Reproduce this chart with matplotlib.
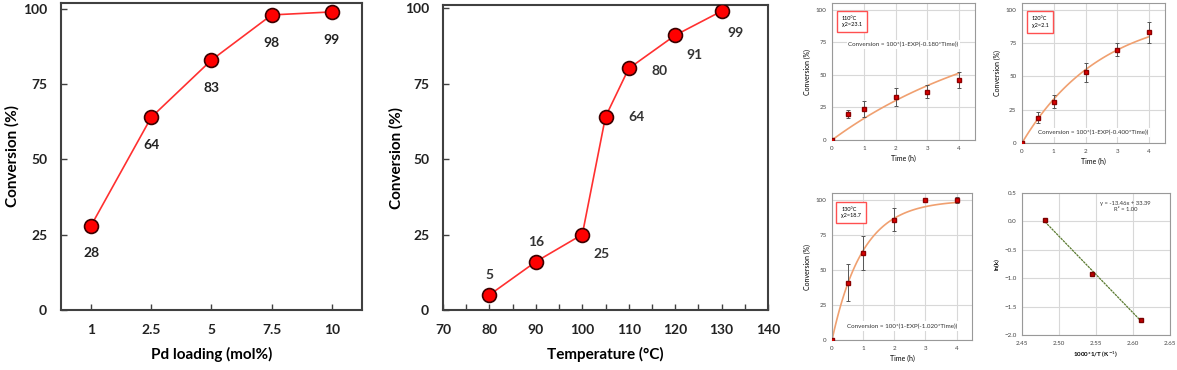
import numpy as np
import matplotlib
matplotlib.use('Agg')
import matplotlib.pyplot as plt

plt.rcParams['font.family'] = ['Lato', 'DejaVu Sans']

# panel a: Pd loading
pd_loading = ['1', '2.5', '5', '7.5', '10']
conv_pd = [28, 64, 83, 98, 99]

# panel b: temperature
temps = [80, 90, 100, 105, 110, 120, 130]
conv_temp = [5, 16, 25, 64, 80, 91, 99]
temp_label_off = [(0, 14), (0, 14), (14, -14), (22, 0), (22, -2), (14, -14), (10, -16)]

# kinetics panels
time_h = [0, 0.5, 1, 2, 3, 4]
conv_110 = [0, 20, 24, 33, 37, 46]
err_110 = [0, 3, 6, 7, 5, 6]
conv_120 = [0, 19, 31, 53, 70, 83]
err_120 = [0, 4, 5, 7, 5, 8]
conv_130 = [0, 41, 62, 86, 100, 100]
err_130 = [0, 13, 12, 8, 0, 2]
k_fit = {'110': 0.180, '120': 0.400, '130': 1.020}
chi2 = {'110': 23.1, '120': 2.1, '130': 18.7}

# Arrhenius
inv_T = [2.481, 2.545, 2.611]
ln_k = [0.02, -0.92, -1.73]

fig = plt.figure(figsize=(11.77, 3.70), dpi=100)
dark = '#404040'

# ---- panel 1
ax1 = fig.add_axes([0.0518, 0.1622, 0.2557, 0.830])
x1 = np.arange(len(pd_loading))
ax1.plot(x1, conv_pd, '-', color='#ff3030', lw=1.2, zorder=2)
ax1.plot(x1, conv_pd, 'o', ms=10, mfc='#ff0000', mec='#3a0000', mew=1.2, zorder=3)
for xi, v in zip(x1, conv_pd):
    ax1.annotate(str(v), (xi, v), xytext=(0, -20), textcoords='offset points',
                 ha='center', va='center', fontsize=10, fontweight='bold', color='#222222')
ax1.set_xticks(x1)
ax1.set_xticklabels(pd_loading)
ax1.set_xlim(-0.5, 4.5)
ax1.set_ylim(0, 102)
ax1.set_yticks([0, 25, 50, 75, 100])
ax1.set_xlabel('Pd loading (mol%)', fontsize=11, fontweight='bold', labelpad=8)
ax1.set_ylabel('Conversion (%)', fontsize=11, fontweight='bold', labelpad=2)

# ---- panel 2
ax2 = fig.add_axes([0.3764, 0.1622, 0.2761, 0.824])
ax2.plot(temps, conv_temp, '-', color='#ff3030', lw=1.2, zorder=2)
ax2.plot(temps, conv_temp, 'o', ms=10, mfc='#ff0000', mec='#3a0000', mew=1.2, zorder=3)
for t, v, off in zip(temps, conv_temp, temp_label_off):
    ax2.annotate(str(v), (t, v), xytext=off, textcoords='offset points',
                 ha='center', va='center', fontsize=10, fontweight='bold', color='#333333')
ax2.set_xlim(70, 140)
ax2.set_ylim(0, 101)
ax2.set_xticks(range(70, 141, 10))
ax2.set_xticks(range(75, 140, 10), minor=True)
ax2.set_yticks([0, 25, 50, 75, 100])
ax2.set_xlabel('Temperature (°C)', fontsize=11, fontweight='bold', labelpad=8)
ax2.set_ylabel('Conversion (%)', fontsize=11, fontweight='bold', labelpad=1)

for ax in (ax1, ax2):
    for s in ax.spines.values():
        s.set_color(dark)
        s.set_linewidth(1.5)
    ax.tick_params(direction='in', length=4, width=1, color=dark, labelsize=10,
                   labelcolor='#222222', pad=10)
    ax.tick_params(which='minor', direction='in', length=4, width=1, color=dark)
    for lab in ax.get_xticklabels() + ax.get_yticklabels():
        lab.set_fontweight('bold')


def kinetics(rect, conv, err, key, eq_y):
    ax = fig.add_axes(rect)
    tt = np.linspace(0, 4, 100)
    ax.plot(tt, 100 * (1 - np.exp(-k_fit[key] * tt)), color='#f0a070', lw=1.2, zorder=2)
    ax.errorbar(time_h, conv, yerr=err, fmt='s', ms=3.2, mfc='#e00000', mec='#8b0000',
                ecolor='#555555', elinewidth=0.7, capsize=1.5, capthick=0.7, zorder=3)
    ax.set_xlim(0, 4.5)
    ax.set_ylim(0, 105)
    ax.set_xticks([0, 1, 2, 3, 4])
    ax.set_yticks([0, 25, 50, 75, 100])
    ax.grid(color='#d8d8d8', lw=0.8)
    ax.set_axisbelow(True)
    ax.set_xlabel('Time (h)', fontsize=5, labelpad=3)
    ax.set_ylabel('Conversion (%)', fontsize=5, labelpad=3)
    ax.text(0.3, 95, '%s°C\nχ2=%.1f' % (key, chi2[key]), fontsize=4, va='top', ha='left',
            linespacing=1.3,
            bbox=dict(boxstyle='square,pad=0.9', fc='white', ec='#ff5050', lw=1.0))
    ax.text(2.25, eq_y, 'Conversion = 100*(1-EXP(-%.3f*Time))' % k_fit[key], fontsize=4.5,
            ha='center', va='center', color='#333333',
            bbox=dict(boxstyle='square,pad=0.3', fc='white', ec='none'))
    for s in ax.spines.values():
        s.set_color('#999999')
        s.set_linewidth(0.8)
    ax.tick_params(length=0, labelsize=4.5, pad=4, labelcolor='#444444')
    return ax


kinetics([0.7069, 0.6216, 0.1215, 0.370], conv_110, err_110, '110', 73)
kinetics([0.8683, 0.6135, 0.1215, 0.378], conv_120, err_120, '120', 8)
kinetics([0.7069, 0.0811, 0.1190, 0.397], conv_130, err_130, '130', 10)

# ---- Arrhenius
ax6 = fig.add_axes([0.8683, 0.0946, 0.1257, 0.384])
coef = np.polyfit(inv_T, ln_k, 1)
xx = np.array([min(inv_T), max(inv_T)])
ax6.plot(xx, np.polyval(coef, xx), color='#5a7a30', lw=0.9, ls=(0, (2, 0.6)), zorder=2)
ax6.plot(inv_T, ln_k, 's', ms=3.2, mfc='#c00000', mec='#7a0000', zorder=3)
ax6.set_xlim(2.45, 2.65)
ax6.set_ylim(-2, 0.5)
ax6.set_xticks([2.45, 2.5, 2.55, 2.6, 2.65])
ax6.set_yticks([0.5, 0, -0.5, -1, -1.5, -2])
ax6.grid(color='#d8d8d8', lw=0.8)
ax6.set_axisbelow(True)
ax6.set_xlabel('1000*1/T (K$^{-1}$)', fontsize=4.5, fontweight='bold', labelpad=3)
ax6.set_ylabel('ln(k)', fontsize=4.5, fontweight='bold', labelpad=3)
ax6.text(2.59, 0.36, 'y = -13.46x + 33.39\nR² = 1.00', fontsize=4.2, ha='center',
         va='top', color='#333333', linespacing=1.4)
for s in ax6.spines.values():
    s.set_color('#999999')
    s.set_linewidth(0.8)
ax6.tick_params(length=0, labelsize=4.5, pad=4, labelcolor='#444444')

fig.savefig('out.png', dpi=100)
